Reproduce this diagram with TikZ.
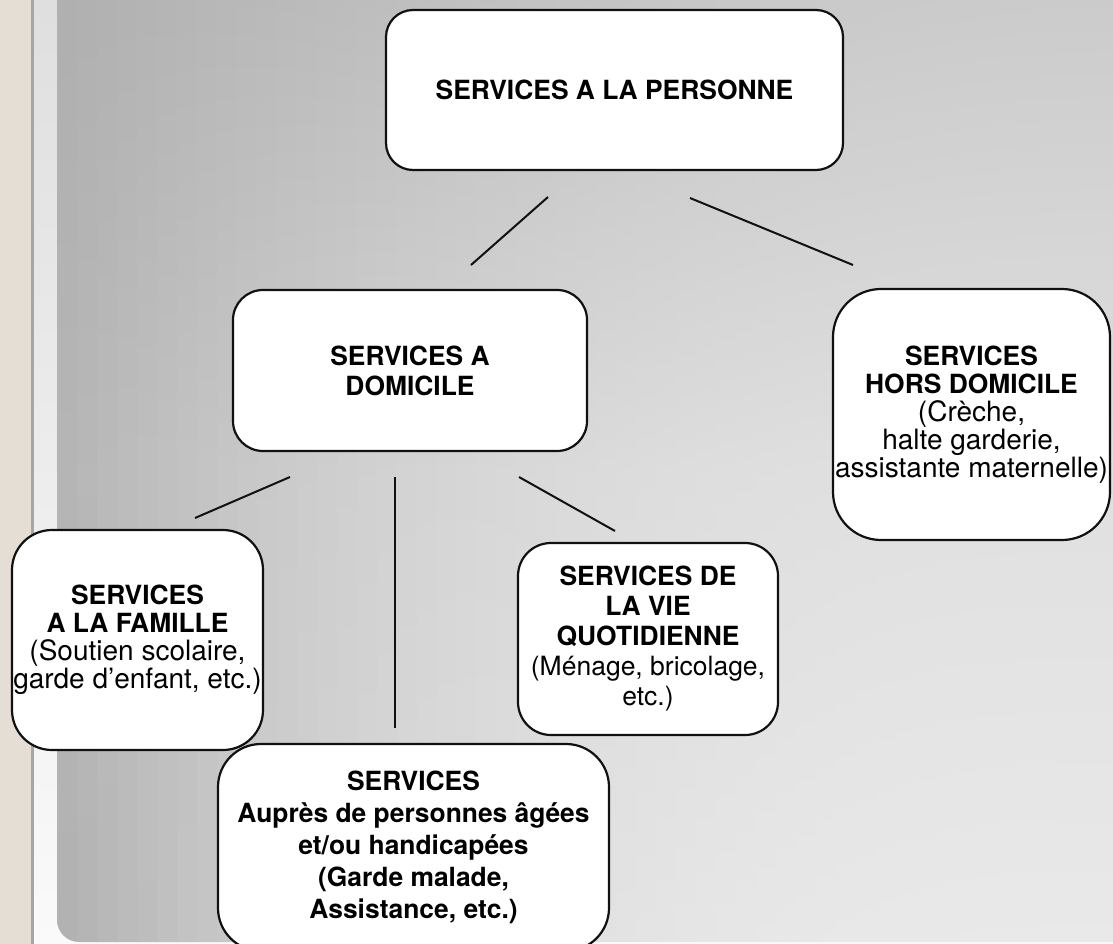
\documentclass[tikz,border=0pt]{standalone}
\usepackage{fontspec}
\setmainfont{TeX Gyre Heros}
\definecolor{beige}{HTML}{E4DED4}
\definecolor{greyline}{HTML}{A6A6A6}
\definecolor{striptop}{HTML}{DFDFDF}
\definecolor{stripbot}{HTML}{FAFAFA}
\definecolor{ink}{HTML}{111111}
\tikzset{
  box/.style={draw=ink, line width=2.2pt, fill=white, inner sep=0pt, align=center,
    font=\fontsize{26.4}{30}\selectfont},
  link/.style={draw=ink, line width=2pt}
}
\newcommand{\reg}[1]{{\fontsize{28}{30}\selectfont #1}}
\begin{document}
\begin{tikzpicture}[x=1pt,y=-1pt]
\useasboundingbox (0,0) rectangle (1113,944);
% background
\fill[beige] (0,0) rectangle (31,944);
\fill[greyline] (31,0) rectangle (34,944);
\shade[top color=striptop, bottom color=stripbot] (34,0) rectangle (1113,944);
\begin{scope}
\clip (57,-5) -- (57,920) arc[start angle=180, end angle=90, radius=22] -- (1120,942) -- (1120,-5) -- cycle;
\foreach \i in {0,...,52}{
  \pgfmathsetmacro\u{(20*\i+10)/1056}
  \pgfmathsetmacro\T{(175+28*(1-(1-\u)^2))/255}
  \pgfmathsetmacro\M{(180+44*(1-(1-\u)^3))/255}
  \pgfmathsetmacro\B{(176+57*(1-(1-\u)^3))/255}
  \definecolor{ct}{gray}{\T}
  \definecolor{cm}{gray}{\M}
  \definecolor{cb}{gray}{\B}
  \shade[top color=ct, bottom color=cb, middle color=cm] ({57+20*\i},-5) rectangle ({57+20*\i+21},950);
}
\end{scope}

% boxes
\node[box, minimum width=457pt, minimum height=160pt, rounded corners=27pt] (top) at (614.5,90)
  {\textbf{SERVICES A LA PERSONNE}};
\node[box, minimum width=354pt, minimum height=161pt, rounded corners=30pt] (dom) at (410,370.5)
  {\textbf{SERVICES A}\\\textbf{DOMICILE}};
\node[box, minimum width=277pt, minimum height=251pt, rounded corners=48pt,
      font=\fontsize{26.4}{28}\selectfont] (hors) at (971.5,414.5)
  {\textbf{SERVICES}\\\textbf{HORS DOMICILE}\\\reg{(Crèche,}\\\reg{halte garderie,}\\\makebox[0pt]{\reg{assistante maternelle)}}};
\node[box, minimum width=251pt, minimum height=220pt, rounded corners=40pt,
      font=\fontsize{26.4}{28}\selectfont] (fam) at (137.5,640)
  {\textbf{SERVICES}\\\textbf{A LA FAMILLE}\\\reg{(Soutien scolaire,}\\\reg{garde d’enfant, etc.)}};
\node[box, minimum width=260pt, minimum height=192pt, rounded corners=33pt] (vie) at (648,639)
  {\textbf{SERVICES DE}\\\textbf{LA VIE}\\\textbf{QUOTIDIENNE}\\{\fontsize{26.5}{30}\selectfont (Ménage, bricolage,}\\{\fontsize{26.5}{30}\selectfont etc.)}};
\node[box, minimum width=391pt, minimum height=207pt, rounded corners=43pt,
      font=\fontsize{26.4}{32}\selectfont] (age) at (413.5,847.5)
  {\textbf{SERVICES}\\\textbf{Auprès de personnes âgées}\\\textbf{et/ou handicapées}\\\textbf{(Garde malade,}\\\textbf{Assistance, etc.)}};

% connectors (free-standing segments)
\coordinate (t1a) at (548,197);
\coordinate (t1b) at (471,265);
\coordinate (t2a) at (690,198);
\coordinate (t2b) at (853,265);
\coordinate (d1a) at (290,477);
\coordinate (d1b) at (195,518);
\coordinate (d2a) at (395,477);
\coordinate (d2b) at (395,728);
\coordinate (d3a) at (519,477);
\coordinate (d3b) at (615,531);
\draw[link] (t1a) -- (t1b);
\draw[link] (t2a) -- (t2b);
\draw[link] (d1a) -- (d1b);
\draw[link] (d2a) -- (d2b);
\draw[link] (d3a) -- (d3b);
\end{tikzpicture}
\end{document}
